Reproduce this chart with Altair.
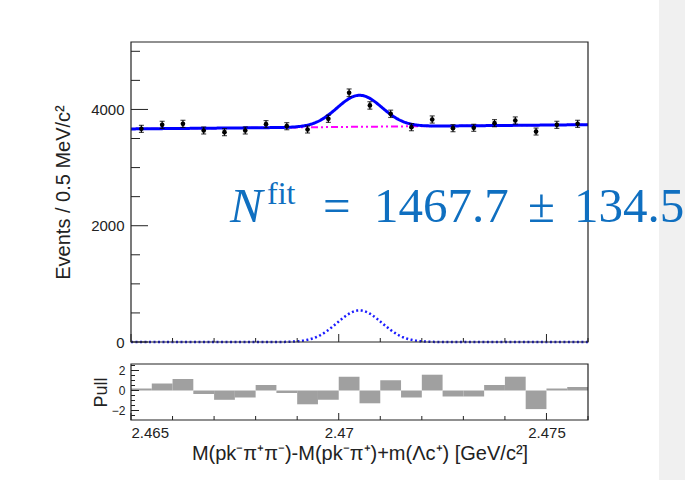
import altair as alt
import numpy as np
import pandas as pd

# ---- binned data (0.5 MeV bins over 2.465 - 2.476 GeV) ----
bin_lo = [2.4650, 2.4655, 2.4660, 2.4665, 2.4670, 2.4675, 2.4680, 2.4685,
          2.4690, 2.4695, 2.4700, 2.4705, 2.4710, 2.4715, 2.4720, 2.4725,
          2.4730, 2.4735, 2.4740, 2.4745, 2.4750, 2.4755]
bin_hi = [2.4655, 2.4660, 2.4665, 2.4670, 2.4675, 2.4680, 2.4685, 2.4690,
          2.4695, 2.4700, 2.4705, 2.4710, 2.4715, 2.4720, 2.4725, 2.4730,
          2.4735, 2.4740, 2.4745, 2.4750, 2.4755, 2.4760]
counts = [3666, 3735, 3752, 3638, 3609, 3638, 3747, 3712, 3655, 3839, 4287,
          4069, 3925, 3695, 3827, 3678, 3684, 3764, 3810, 3620, 3735, 3752]
pulls = [0.2, 0.7, 1.15, -0.35, -0.93, -0.7, 0.55, -0.25, -1.38, -0.93, 1.38,
         -1.28, 1.03, -0.7, 1.58, -0.6, -0.6, 0.55, 1.38, -1.86, 0.2, 0.35]

# ---- fit model: Gaussian signal + linear background ----
n_sig = 1467.7
n_sig_err = 134.5
sig_mean = 2.4705
sig_sigma = 0.00054
bin_width = 0.0005
bkg_ends = [3665, 3738]          # background level at the two range ends
x_range = [2.465, 2.476]

# ---- axis tick positions ----
x_major = [2.465, 2.47, 2.475]
x_minor = [2.466, 2.467, 2.468, 2.469, 2.471, 2.472, 2.473, 2.474, 2.476]
y_major = [0, 2000, 4000]
y_minor = [500, 1000, 1500, 2500, 3000, 3500, 4500, 5000]
pull_major = [-2, 0, 2]
pull_minor = [-2.5, -1.5, -1, -0.5, 0.5, 1, 1.5, 2.5]

W, H_MAIN, H_PULL = 457, 300, 56
OX, OY = 131, 42                 # plot-area origin on the page
PAGE_W, PAGE_H = 685, 480
BLUE_TXT = "#0F6FC0"
FRAME = "#222"

data = pd.DataFrame({
    "lo": bin_lo, "hi": bin_hi, "n": counts, "pull": pulls,
})
data["x"] = (data["lo"] + data["hi"]) / 2
data["err"] = np.sqrt(data["n"])
data["ylo"] = data["n"] - data["err"]
data["yhi"] = data["n"] + data["err"]

xs = np.linspace(x_range[0], x_range[1], 441)
bkg = bkg_ends[0] + (bkg_ends[1] - bkg_ends[0]) * (xs - x_range[0]) / (x_range[1] - x_range[0])
sig = n_sig * bin_width / (np.sqrt(2 * np.pi) * sig_sigma) * np.exp(-0.5 * ((xs - sig_mean) / sig_sigma) ** 2)
curve = pd.DataFrame({"x": xs, "bkg": bkg, "sig": sig, "tot": bkg + sig})

xsc = alt.Scale(domain=x_range, nice=False, zero=False)
ysc = alt.Scale(domain=[0, 5160], nice=False, zero=False)
psc = alt.Scale(domain=[-2.95, 2.65], nice=False, zero=False)

# shared axis definitions (every layer on a channel uses the same one)
main_y_axis = alt.Axis(
    values=y_major, format="d", ticks=False, domain=False, grid=False,
    labelPadding=7, labelOverlap=False, labelFontSize=15, zindex=1,
    title="Events / 0.5 MeV/c²", titlePadding=17)
pull_x_axis = alt.Axis(
    values=x_major, format=".4~g", ticks=False, domain=False, grid=False,
    labelPadding=5, labelOverlap=False, labelFontSize=15, zindex=1,
    title="M(pk⁻π⁺π⁻)-M(pk⁻π⁺)+m(Λc⁺) [GeV/c²]", titlePadding=3)
pull_y_axis = alt.Axis(
    values=pull_major, format="d", ticks=False, domain=False, grid=False,
    labelPadding=6, labelOverlap=False, labelFontSize=12, zindex=1,
    title="Pull", titleFontSize=18, titlePadding=1)

one = pd.DataFrame({"k": [0]})

# ---------------- main panel ----------------
# invisible page-sized box (fixes the page extent) and the grey strip on the right
page = alt.Chart(one).mark_rect(color="white", opacity=0).encode(
    x=alt.value(-OX), x2=alt.value(PAGE_W - OX),
    y=alt.value(-OY), y2=alt.value(PAGE_H - OY))
band = alt.Chart(one).mark_rect(color="#f0f0f0").encode(
    x=alt.value(659 - OX), x2=alt.value(PAGE_W - OX),
    y=alt.value(-OY), y2=alt.value(PAGE_H - OY))

base_c = alt.Chart(curve)
bkg_line = base_c.mark_line(color="#ff00ff", strokeWidth=2, strokeDash=[7, 3, 2, 3, 2, 3]).encode(
    x=alt.X("x:Q", scale=xsc, axis=None),
    y=alt.Y("bkg:Q", scale=ysc, axis=main_y_axis))
sig_line = base_c.mark_line(color="#1a1aff", strokeWidth=2.5, strokeDash=[2, 2.5]).encode(
    x=alt.X("x:Q", scale=xsc), y=alt.Y("sig:Q", scale=ysc, axis=main_y_axis))
tot_line = base_c.mark_line(color="#0000ff", strokeWidth=3).encode(
    x=alt.X("x:Q", scale=xsc), y=alt.Y("tot:Q", scale=ysc, axis=main_y_axis))

base_d = alt.Chart(data)
err_rule = base_d.mark_rule(color="black", strokeWidth=1.2).encode(
    x=alt.X("x:Q", scale=xsc), y=alt.Y("ylo:Q", scale=ysc, axis=main_y_axis), y2="yhi:Q")
cap_lo = base_d.mark_tick(color="black", orient="horizontal", size=5, thickness=1.2).encode(
    x=alt.X("x:Q", scale=xsc), y=alt.Y("ylo:Q", scale=ysc, axis=main_y_axis))
cap_hi = base_d.mark_tick(color="black", orient="horizontal", size=5, thickness=1.2).encode(
    x=alt.X("x:Q", scale=xsc), y=alt.Y("yhi:Q", scale=ysc, axis=main_y_axis))
pts = base_d.mark_circle(color="black", size=22, opacity=1).encode(
    x=alt.X("x:Q", scale=xsc), y=alt.Y("n:Q", scale=ysc, axis=main_y_axis))

def vticks(vals, length, h, axis=alt.Undefined):
    return alt.Chart(pd.DataFrame({"v": vals})).mark_rule(color=FRAME, strokeWidth=1).encode(
        x=alt.X("v:Q", scale=xsc, axis=axis), y=alt.value(h), y2=alt.value(h - length))

def hticks(vals, length, sc, axis):
    return alt.Chart(pd.DataFrame({"v": vals})).mark_rule(color=FRAME, strokeWidth=1).encode(
        y=alt.Y("v:Q", scale=sc, axis=axis), x=alt.value(0), x2=alt.value(length))

def frame(h):
    return alt.Chart(one).mark_rect(fill=None, stroke=FRAME, strokeWidth=1.2).encode(
        x=alt.value(0), x2=alt.value(W), y=alt.value(0), y2=alt.value(h))

def txt(s, x, y, size, italic=False):
    return alt.Chart(one).mark_text(
        text=s, align="left", baseline="alphabetic", font="Liberation Serif",
        fontSize=size, fontStyle="italic" if italic else "normal", color=BLUE_TXT
    ).encode(x=alt.value(x), y=alt.value(y))

label = (txt("N", 99, 180, 49, italic=True)
         + txt("fit", 136, 162, 32)
         + txt("=", 192, 180, 49)
         + txt(f"{n_sig:.1f}", 243, 180, 49)
         + txt("±", 397, 180, 49)
         + txt(f"{n_sig_err:.1f}", 443, 180, 49))

main = alt.layer(
    page, band, bkg_line, sig_line, tot_line, err_rule, cap_lo, cap_hi, pts,
    vticks(x_major, 8, H_MAIN), vticks(x_minor, 4, H_MAIN),
    hticks(y_major, 17, ysc, main_y_axis), hticks(y_minor, 9, ysc, main_y_axis),
    frame(H_MAIN), label,
).properties(width=W, height=H_MAIN)

# ---------------- pull panel ----------------
pull_bars = alt.Chart(data).mark_rect(color="#a0a0a0").encode(
    x=alt.X("lo:Q", scale=xsc, axis=pull_x_axis),
    x2="hi:Q",
    y=alt.Y("zero:Q", scale=psc, axis=pull_y_axis),
    y2="pull:Q",
).transform_calculate(zero="0")

pull = alt.layer(
    pull_bars,
    vticks(x_major, 7, H_PULL, pull_x_axis), vticks(x_minor, 4, H_PULL, pull_x_axis),
    hticks(pull_major, 8, psc, pull_y_axis), hticks(pull_minor, 4, psc, pull_y_axis),
    frame(H_PULL),
).properties(width=W, height=H_PULL)

chart = alt.vconcat(main, pull, spacing=22, bounds="flush").properties(
    padding=0,
    background="white",
).configure_view(
    stroke=None
).configure_axis(
    labelFont="Liberation Sans", titleFont="Liberation Sans",
    labelFontSize=14, titleFontSize=20, titleFontWeight="normal",
    labelColor="#222", titleColor="#222",
)

chart.save("out.html", embed_options={"renderer": "svg", "actions": False})
